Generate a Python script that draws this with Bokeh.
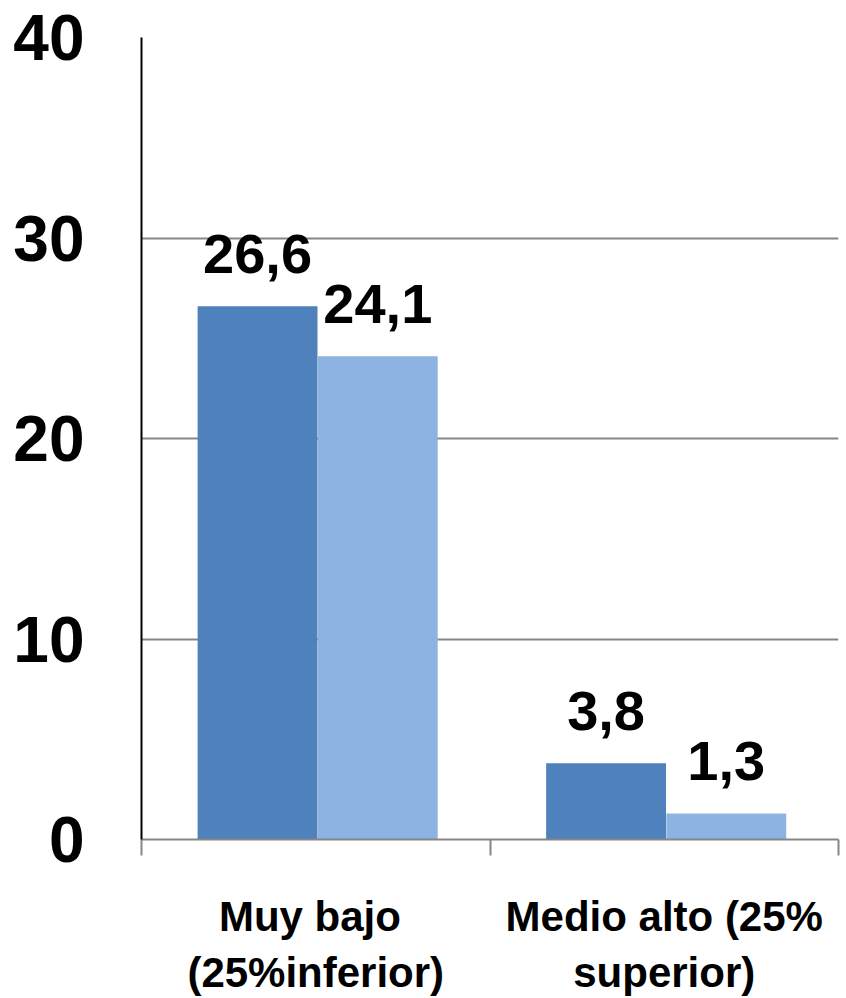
from bokeh.plotting import figure
from bokeh.models import ColumnDataSource, FixedTicker, Range1d
from bokeh.core.properties import value
from bokeh.embed import file_html
from bokeh.resources import INLINE

categories = ["Muy  bajo\n(25%inferior)", "Medio alto (25%\nsuperior)"]
series_a = [26.6, 3.8]
series_b = [24.1, 1.3]
y_ticks = [0, 10, 20, 30, 40]

color_a = "#4F81BD"
color_b = "#8DB3E2"
bar_w = 0.344
off_a = -0.167
off_b = 0.178

centers = [i + 0.5 for i in range(len(categories))]

def fmt(v):
    return f"{v:.1f}".replace(".", ",")

src_a = ColumnDataSource(dict(x=[c + off_a for c in centers], top=series_a,
                              label=[fmt(v) for v in series_a]))
src_b = ColumnDataSource(dict(x=[c + off_b for c in centers], top=series_b,
                              label=[fmt(v) for v in series_b]))

p = figure(width=840, height=998, output_backend="svg", toolbar_location=None,
           x_range=Range1d(0, len(categories)), y_range=Range1d(0, 40),
           min_border_left=141, min_border_right=2, min_border_top=37,
           min_border_bottom=0)
p.outline_line_color = None
p.background_fill_color = "white"
p.border_fill_color = "white"

p.vbar(x="x", top="top", width=bar_w, bottom=0, source=src_a,
       fill_color=color_a, line_color=None)
p.vbar(x="x", top="top", width=bar_w, bottom=0, source=src_b,
       fill_color=color_b, line_color=None)

for src in (src_a, src_b):
    p.text(x="x", y="top", text="label", source=src, text_align="center",
           text_baseline="alphabetic", y_offset=-52,
           text_font=value("Liberation Sans"), text_font_style="bold",
           text_font_size="56px", text_color="black")

# grid
p.xgrid.visible = False
p.ygrid.ticker = FixedTicker(ticks=y_ticks)
p.ygrid.grid_line_color = "#868686"
p.ygrid.grid_line_width = 2

# y axis
ya = p.yaxis[0]
ya.ticker = FixedTicker(ticks=y_ticks)
ya.axis_line_color = "black"
ya.axis_line_width = 2
ya.major_tick_line_color = None
ya.minor_tick_line_color = None
ya.major_tick_out = 0
ya.major_label_standoff = 57
ya.major_label_text_font = "Liberation Sans"
ya.major_label_text_font_style = "bold"
ya.major_label_text_font_size = "64px"
ya.major_label_text_color = "black"

# x axis
xa = p.xaxis[0]
xa.ticker = FixedTicker(ticks=centers, minor_ticks=list(range(len(categories) + 1)))
xa.major_label_overrides = {c: lab for c, lab in zip(centers, categories)}
xa.axis_line_color = "#868686"
xa.axis_line_width = 2
xa.major_tick_line_color = None
xa.major_tick_out = 0
xa.minor_tick_line_color = "#868686"
xa.minor_tick_line_width = 2
xa.minor_tick_in = 0
xa.minor_tick_out = 16
xa.major_label_standoff = 37
xa.major_label_text_font = "Liberation Sans"
xa.major_label_text_font_style = "bold"
xa.major_label_text_font_size = "42px"
xa.major_label_text_color = "black"
xa.major_label_text_align = "center"

open("out.html", "w").write(file_html(p, INLINE))
